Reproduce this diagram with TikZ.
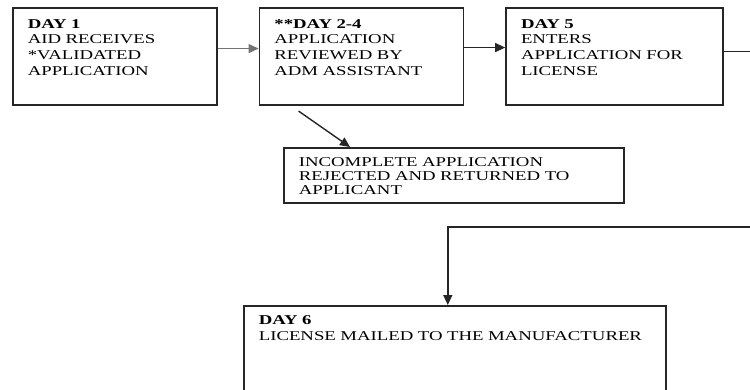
\documentclass[tikz,border=0pt]{standalone}
\usepackage{fontspec}
\setmainfont{Liberation Serif}[FakeStretch=1.39]
\usepackage{tikz}
\usetikzlibrary{arrows.meta,positioning,calc}

\begin{document}
\begin{tikzpicture}[x=1pt,y=-1pt,
  box/.style={draw=black!85,line width=1.6pt,align=left,inner xsep=15pt,inner ysep=11pt,
    text height=9.5pt,text depth=#1,font=\fontsize{13.5}{15.7}\selectfont},
  box/.default=66pt,
  arr/.style={-{Triangle[length=10pt,width=9pt]},line width=1.4pt,draw=black!85}]
  \useasboundingbox (0,0) rectangle (750,390);
  \clip (0,0) rectangle (750,390);
  \node[box,text width=174pt,anchor=north west] (recv) at (12,7) {\textbf{DAY 1}\\AID RECEIVES\\{*}VALIDATED\\APPLICATION};
  \node[box,text width=174pt,right=41pt of recv] (rev) {\textbf{**DAY 2-4}\\APPLICATION\\REVIEWED BY\\ADM ASSISTANT};
  \node[box,text width=187pt,right=41pt of rev] (lic) {\textbf{DAY 5}\\ENTERS\\APPLICATION FOR\\LICENSE};
  \node[box=28pt,inner ysep=9pt,text width=310pt,anchor=north west,font=\fontsize{13.5}{14}\selectfont] (rej) at (283,147) {INCOMPLETE APPLICATION\\REJECTED AND RETURNED TO\\APPLICANT};
  \node[box=96pt,inner ysep=9pt,text width=392pt,anchor=north west,font=\fontsize{13.5}{16}\selectfont] (mail) at (243,305) {\textbf{DAY 6}\\LICENSE MAILED TO THE MANUFACTURER};
  \coordinate (edge) at (758,227);
  \draw[arr,draw=black!55] ([yshift=8pt]recv.east) -- ([yshift=8pt]rev.west);
  \draw[arr] ([yshift=9pt]rev.east) -- ([yshift=9pt]lic.west);
  \draw[arr] ([xshift=40pt,yshift=-5pt]rev.south west) -- ([xshift=67pt]rej.north west);
  \draw[arr] ([yshift=5pt]lic.east) -| (edge) -| ([xshift=-7pt]mail.north);
\end{tikzpicture}
\end{document}
